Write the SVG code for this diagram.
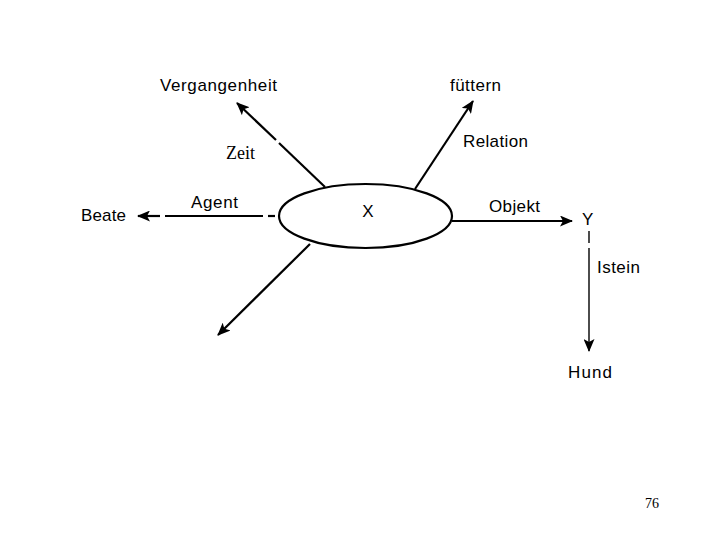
<svg xmlns="http://www.w3.org/2000/svg" width="720" height="540" viewBox="0 0 720 540">
<style>
.t{font-family:"Liberation Sans",Arial,sans-serif;font-size:17px;fill:#000}
.s{font-family:"Liberation Serif","Times New Roman",serif;fill:#000}
.c{stroke:#000;stroke-width:2.2;fill:none}
.thin{stroke:#000;stroke-width:1.4;fill:none}
</style>
<defs>
<marker id="ah" viewBox="0 0 13 11" refX="12" refY="5.5" markerWidth="13" markerHeight="11" markerUnits="userSpaceOnUse" orient="auto">
<path d="M0,0 L13,5.5 L0,11 L3,5.5 Z" fill="#000"/>
</marker>
</defs>
<rect width="720" height="540" fill="#fff"/>
<g id="connectors">
<path class="c" d="M325,187 L279,143"/>
<path class="c" d="M276,140 L237,103" marker-end="url(#ah)"/>
<path class="c" d="M415,189 L473,101" marker-end="url(#ah)"/>
<path class="c" d="M275,216 L268,216"/>
<path class="c" d="M263,216 L165,216"/>
<path class="c" d="M160,216 L138,216" marker-end="url(#ah)"/>
<path class="c" d="M452,221 L572,221" marker-end="url(#ah)"/>
<path class="thin" d="M589,231 L589,243"/>
<path class="thin" d="M589,248 L589,351" marker-end="url(#ah)"/>
<path class="c" d="M310,244 L218,335" marker-end="url(#ah)"/>
</g>
<g id="node-x">
<ellipse cx="365.5" cy="216" rx="86.5" ry="32" fill="#fff" stroke="#000" stroke-width="2.2"/>
<text x="368" y="217" class="t" text-anchor="middle">X</text>
</g>
<g id="label-vergangenheit"><text x="160" y="91" class="t" textLength="117" lengthAdjust="spacing">Vergangenheit</text></g>
<g id="label-fuettern"><text x="450" y="91" class="t" textLength="51" lengthAdjust="spacing">füttern</text></g>
<g id="label-zeit"><text x="226" y="159" class="s" style="font-size:18px">Zeit</text></g>
<g id="label-relation"><text x="463" y="147" class="t" textLength="65" lengthAdjust="spacing">Relation</text></g>
<g id="label-beate"><text x="81" y="221" class="t" textLength="45" lengthAdjust="spacing">Beate</text></g>
<g id="label-agent"><text x="191" y="208" class="t" textLength="47" lengthAdjust="spacing">Agent</text></g>
<g id="label-objekt"><text x="489" y="212" class="t" textLength="51" lengthAdjust="spacing">Objekt</text></g>
<g id="node-y"><text x="582" y="225" class="t">Y</text></g>
<g id="label-istein"><text x="597" y="273" class="t" textLength="43" lengthAdjust="spacing">Istein</text></g>
<g id="node-hund"><text x="568" y="378" class="t" textLength="44" lengthAdjust="spacing">Hund</text></g>
<g id="page-number"><text x="645" y="508" class="s" style="font-size:14px">76</text></g>
</svg>
